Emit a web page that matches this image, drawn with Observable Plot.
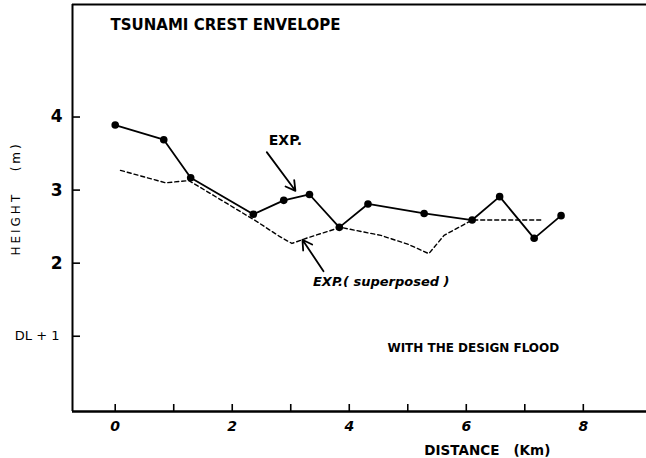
<!DOCTYPE html>
<html>
<head>
<meta charset="utf-8">
<script src="https://cdn.jsdelivr.net/npm/d3@7"></script>
<script src="https://cdn.jsdelivr.net/npm/@observablehq/plot@0.6"></script>
<style>
  html, body { margin: 0; padding: 0; background: #fff; }
  #chart { width: 646px; height: 458px; }
</style>
</head>
<body>
<div id="chart"></div>
<script>
// --- data ---
const expX = [0, 0.83, 1.29, 2.36, 2.88, 3.32, 3.83, 4.32, 5.28, 6.10, 6.57, 7.16, 7.62];
const expY = [3.89, 3.69, 3.17, 2.67, 2.86, 2.94, 2.49, 2.81, 2.68, 2.59, 2.91, 2.34, 2.65];
const supX = [0.09, 0.86, 1.26, 2.4, 2.8, 3.02, 3.3, 3.85, 4.54, 5.0, 5.36, 5.62, 6.10, 7.32];
const supY = [3.27, 3.10, 3.13, 2.58, 2.37, 2.27, 2.35, 2.49, 2.38, 2.26, 2.13, 2.38, 2.59, 2.59];
const xTicks = [0, 1, 2, 3, 4, 5, 6, 7, 8];
const xTickLabels = [0, 2, 4, 6, 8];
const yTicks = [1, 2, 3, 4];
const yTickLabels = ["DL + 1", "2", "3", "4"];
const xDomain = [-0.73, 9.08];
const yDomain = [-0.03, 5.54];
const titleText = "TSUNAMI CREST ENVELOPE";
const noteText = "WITH THE DESIGN FLOOD";
const xLabelText = "DISTANCE   (Km)";
const yLabelText = "HEIGHT   (m)";
// annotations (data units)
const labels = [
  {x: -0.08, y: 5.26, text: titleText, kind: "title"},
  {x: 2.91, y: 3.68, text: "EXP.", kind: "exp"},
  {x: 3.38, y: 1.74, text: "EXP.( superposed )", kind: "sup"},
  {x: 6.12, y: 0.84, text: noteText, kind: "note"},
  {x: 6.36, y: -0.56, text: xLabelText, kind: "xlabel"}
];
const arrows = [
  {x1: 2.59, y1: 3.52, x2: 3.08, y2: 2.99},
  {x1: 3.56, y1: 1.89, x2: 3.20, y2: 2.32}
];

const exp = expX.map((x, i) => ({x, y: expY[i]}));
const sup = supX.map((x, i) => ({x, y: supY[i]}));
const yLab = yTicks.map((v, i) => ({v, t: yTickLabels[i]}));

const F = "'DejaVu Sans', sans-serif";

const plot = Plot.plot({
  width: 646,
  height: 458,
  marginLeft: 72,
  marginRight: 0,
  marginTop: 4,
  marginBottom: 47,
  x: {domain: xDomain, axis: null},
  y: {domain: yDomain, axis: null},
  style: {background: "white", color: "black", fontFamily: F, overflow: "visible"},
  marks: [
    // frame lines
    Plot.ruleX([xDomain[0]], {stroke: "black", strokeWidth: 2}),
    Plot.ruleY([yDomain[0]], {stroke: "black", strokeWidth: 2.4}),
    Plot.ruleY([yDomain[1]], {stroke: "black", strokeWidth: 2}),
    // ticks pointing inward
    Plot.tickX(xTicks, {x: d => d, stroke: "black", strokeWidth: 1.6, insetTop: 400}),
    Plot.tickY(yTicks, {y: d => d, stroke: "black", strokeWidth: 1.6, insetRight: 566}),
    // tick labels
    Plot.text(xTickLabels, {x: d => d, y: yDomain[0], text: d => String(d), dy: 15, fontSize: 14, fontWeight: "bold", fontStyle: "italic", fill: "black"}),
    Plot.text(yLab.filter(d => d.v !== 1), {x: xDomain[0], y: "v", text: "t", dx: -10, textAnchor: "end", fontSize: 17, fontWeight: "bold", fill: "black"}),
    Plot.text(yLab.filter(d => d.v === 1), {x: xDomain[0], y: "v", text: "t", dx: -13, textAnchor: "end", fontSize: 13, fill: "black"}),
    // data
    Plot.line(sup, {x: "x", y: "y", stroke: "black", strokeWidth: 1.4, strokeDasharray: "4,3"}),
    Plot.line(exp, {x: "x", y: "y", stroke: "black", strokeWidth: 1.8}),
    Plot.dot(exp, {x: "x", y: "y", r: 3.8, fill: "black", stroke: "none"}),
    // arrows
    Plot.arrow(arrows, {x1: "x1", y1: "y1", x2: "x2", y2: "y2", stroke: "black", strokeWidth: 1.8, headLength: 9}),
    // annotations
    Plot.text(labels.filter(d => d.kind === "title"), {x: "x", y: "y", text: "text", textAnchor: "start", fontSize: 15, fontWeight: "bold", fill: "black"}),
    Plot.text(labels.filter(d => d.kind === "exp"), {x: "x", y: "y", text: "text", fontSize: 14, fontWeight: "bold", fill: "black"}),
    Plot.text(labels.filter(d => d.kind === "sup"), {x: "x", y: "y", text: "text", textAnchor: "start", fontSize: 13, fontWeight: "bold", fontStyle: "italic", fill: "black"}),
    Plot.text(labels.filter(d => d.kind === "note"), {x: "x", y: "y", text: "text", fontSize: 12, fontWeight: "bold", fill: "black"}),
    Plot.text(labels.filter(d => d.kind === "xlabel"), {x: "x", y: "y", text: "text", fontSize: 13.5, fontWeight: "bold", fill: "black"}),
    Plot.text([yLabelText], {x: -1.687, y: 2.886, text: d => d, rotate: -90, fontSize: 12, fill: "black"})
  ]
});
document.getElementById("chart").appendChild(plot);
// letter-spacing for the vertical axis label
d3.select(plot).selectAll("text").filter(function() { return this.textContent === yLabelText; })
  .style("letter-spacing", "3px");
</script>
</body>
</html>
